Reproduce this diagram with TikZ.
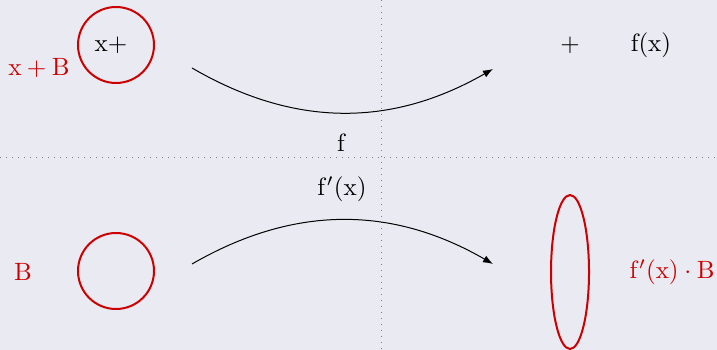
\documentclass[tikz,border=0pt]{standalone}
\usetikzlibrary{arrows.meta,shapes.geometric}
\definecolor{bgc}{RGB}{234,234,242}
\definecolor{myred}{RGB}{204,0,0}
\begin{document}
\begin{tikzpicture}[x=0.4pt,y=-0.4pt,
  ring/.style={draw=myred,line width=0.8pt,circle,minimum size=30.4pt,inner sep=0pt},
  oval/.style={draw=myred,line width=0.8pt,ellipse,minimum width=15.2pt,minimum height=61.6pt,inner sep=0pt},
  redlab/.style={text=myred,inner sep=0pt},
  lab/.style={inner sep=0pt},
  guide/.style={gray,dotted},
  flow/.style={-{Latex[length=4pt,width=3pt]}}]
\fill[bgc] (0,0) rectangle (717,350);
\useasboundingbox (0,0) rectangle (717,350);
% guide lines
\coordinate (vt) at (381,0); \coordinate (vb) at (381,350);
\coordinate (hl) at (0,158); \coordinate (hr) at (717,158);
\draw[guide] (vt) -- (vb);
\draw[guide] (hl) -- (hr);
% top row
\node[ring] (c1) at (116,45) {};
\node[lab] (xp) at (111,45) {$\mathrm{x}+$};
\node[redlab] (xpb) at (39,68) {$\mathrm{x+B}$};
\node[lab] (plus) at (570,45) {$+$};
\node[lab] (fx) at (651,45) {$\mathrm{f(x)}$};
% bottom row
\node[ring] (c2) at (116,271) {};
\node[redlab] (b) at (23,272) {$\mathrm{B}$};
\node[oval] (e) at (570,272) {};
\node[redlab] (fb) at (672,272) {$\mathrm{f'(x)\cdot B}$};
% middle labels
\node[lab] (f) at (342,143) {$\mathrm{f}$};
\node[lab] (fpx) at (342,189) {$\mathrm{f'(x)}$};
% arrows
\coordinate (a1s) at (192,68); \coordinate (a1e) at (493,69);
\coordinate (a2s) at (192,264); \coordinate (a2e) at (493,264);
\draw[flow] (a1s) to[bend right=30] (a1e);
\draw[flow] (a2s) to[bend left=30] (a2e);
\end{tikzpicture}
\end{document}
